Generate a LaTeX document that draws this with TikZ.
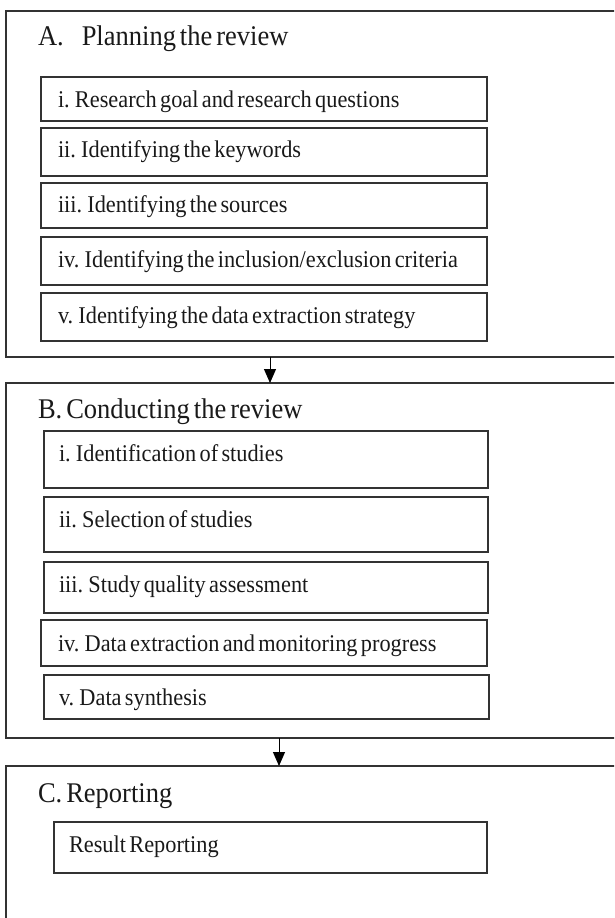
\documentclass[tikz,border=0pt]{standalone}
\usepackage{fontspec}
\setmainfont{Liberation Serif}[FakeStretch=0.93, WordSpace=0.6]
\usetikzlibrary{arrows.meta}
\begin{document}
\begin{tikzpicture}[x=1pt, y=-1pt,
        every node/.style={inner sep=0pt, outer sep=0pt},
        phase/.style={draw=black!80, line width=1.3pt, anchor=north west, minimum width=620pt},
        inbox/.style={draw=black!80, line width=1.3pt, anchor=north west},
        title/.style={anchor=base west, text=black!90, font=\fontsize{28.5}{30}\selectfont},
        item/.style={anchor=base west, text=black!90, font=\fontsize{24}{26}\selectfont},
        flow/.style={draw=black, line width=1pt, -{Triangle[width=12pt, length=14pt]}}]
            \clip (0,0) rectangle (614,918);

            \node[phase, minimum height=346pt] (A) at (6,11) {};
            \node[phase, minimum height=355pt] (B) at (6,383) {};
            \node[phase, minimum height=170pt] (C) at (6,766) {};

            \node[title] (Atitle) at (38,45) {A.\hspace{18pt}Planning the review};
            \node[inbox, minimum width=446pt, minimum height=44pt] (a1) at (41,77) {};
            \node[inbox, minimum width=446pt, minimum height=48pt] (a2) at (41,128) {};
            \node[inbox, minimum width=446pt, minimum height=45pt] (a3) at (41,183) {};
            \node[inbox, minimum width=446pt, minimum height=48pt] (a4) at (41,237) {};
            \node[inbox, minimum width=446pt, minimum height=48pt] (a5) at (41,293) {};
            \node[item] (a1t) at (58,107) {i. Research goal and research questions};
            \node[item] (a2t) at (58,157) {ii. Identifying the keywords};
            \node[item] (a3t) at (58,212) {iii. Identifying the sources};
            \node[item] (a4t) at (58,267) {iv. Identifying the inclusion/exclusion criteria};
            \node[item] (a5t) at (58,323) {v. Identifying the data extraction strategy};

            \node[title] (Btitle) at (38,418) {B. Conducting the review};
            \node[inbox, minimum width=444pt, minimum height=57pt] (b1) at (44,431) {};
            \node[inbox, minimum width=444pt, minimum height=55pt] (b2) at (44,497) {};
            \node[inbox, minimum width=444pt, minimum height=51pt] (b3) at (44,562) {};
            \node[inbox, minimum width=446pt, minimum height=46pt] (b4) at (41,620) {};
            \node[inbox, minimum width=445pt, minimum height=44pt] (b5) at (44,675) {};
            \node[item] (b1t) at (59,461) {i. Identification of studies};
            \node[item] (b2t) at (59,527) {ii. Selection of studies};
            \node[item] (b3t) at (59,592) {iii. Study quality assessment};
            \node[item] (b4t) at (58,651) {iv. Data extraction and monitoring progress};
            \node[item] (b5t) at (59,705) {v. Data synthesis};

            \node[title] (Ctitle) at (38,802) {C. Reporting};
            \node[inbox, minimum width=433pt, minimum height=51pt] (c1) at (54,822) {};
            \node[item] (c1t) at (69,852) {Result Reporting};

            \coordinate (ar1) at (270,0);
            \coordinate (ar2) at (279,0);
            \draw[flow] (A.south -| ar1) -- (B.north -| ar1);
            \draw[flow] (B.south -| ar2) -- (C.north -| ar2);
        \end{tikzpicture}
\end{document}
